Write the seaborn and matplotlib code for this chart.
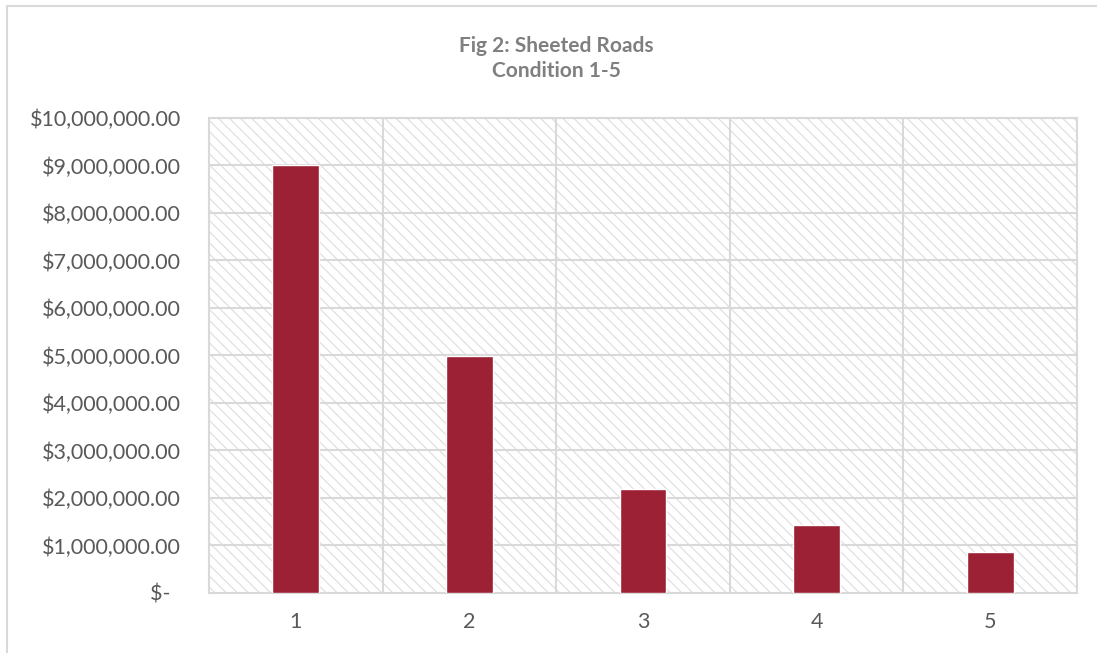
import matplotlib
matplotlib.use("Agg")
import matplotlib.pyplot as plt
from matplotlib.patches import Rectangle
from matplotlib.lines import Line2D
import seaborn as sns
import pandas as pd

# condition categories and sheeted road costs
conditions = ["1", "2", "3", "4", "5"]
costs = [9000000, 4980000, 2180000, 1440000, 860000]
yticks = [0, 1000000, 2000000, 3000000, 4000000, 5000000,
          6000000, 7000000, 8000000, 9000000, 10000000]

df = pd.DataFrame({"Condition": conditions, "Cost": costs})

sns.set_style("white")
plt.rcParams["font.family"] = ["Lato", "DejaVu Sans"]
plt.rcParams["hatch.linewidth"] = 0.8

grey = "#d9d9d9"
text_grey = "#595959"

fig = plt.figure(figsize=(10.97, 6.53), dpi=100)
ax = fig.add_axes([0.1905, 0.0919, 0.7913, 0.7274])

# hatched plot background
ax.add_patch(Rectangle((0, 0), 1, 1, transform=ax.transAxes, facecolor="white",
                       edgecolor="#dddddd", hatch="\\\\\\", lw=0, zorder=0))

sns.barplot(data=df, x="Condition", y="Cost", color="#9c2134", width=0.27,
            saturation=1, ax=ax, zorder=3)

ax.set_xlim(-0.5, 4.5)
ax.set_ylim(0, 10000000)
ax.set_yticks(yticks)
# accounting style: zero shown as a dash, set in from the right
ax.set_yticklabels(["$-  "] + [f"${v:,.2f}" for v in yticks[1:]])
ax.set_xlabel("")
ax.set_ylabel("")

# horizontal gridlines plus vertical category separators
for v in yticks[1:]:
    ax.axhline(v, color=grey, lw=1.5, zorder=1)
for x in [0.5, 1.5, 2.5, 3.5]:
    ax.axvline(x, color=grey, lw=1.5, zorder=1)

for s in ax.spines.values():
    s.set_color(grey)
    s.set_linewidth(1.5)

ax.tick_params(axis="y", length=0, pad=20, labelsize=15.5, labelcolor=text_grey)
ax.tick_params(axis="x", length=0, pad=14, labelsize=15.5, labelcolor=text_grey)

fig.text(0.507, 0.911, "Fig 2: Sheeted Roads\nCondition 1-5", ha="center",
         va="center", fontsize=15, fontweight="bold", color="#7f7f7f",
         linespacing=1.3)

# chart frame (top and left edges visible)
fig.add_artist(Line2D([0.0064, 1.0], [0.9908, 0.9908], color=grey, lw=1.5,
                      transform=fig.transFigure))
fig.add_artist(Line2D([0.0064, 0.0064], [0.0, 0.9908], color=grey, lw=1.5,
                      transform=fig.transFigure))

fig.savefig("out.png", dpi=100)
